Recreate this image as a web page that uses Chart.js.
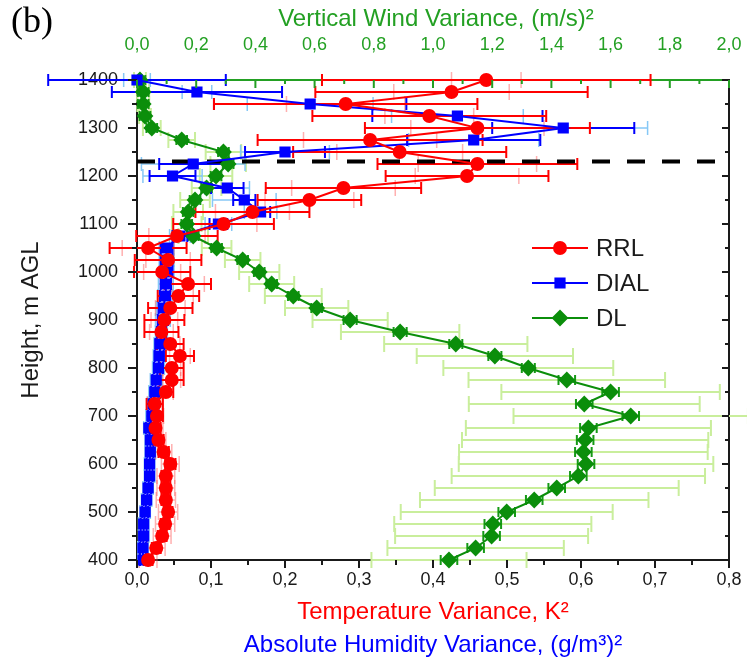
<!DOCTYPE html>
<html>
<head>
<meta charset="utf-8">
<script src="https://cdn.jsdelivr.net/npm/chart.js@4.4.1/dist/chart.umd.min.js"></script>
<style>
  html, body { margin: 0; padding: 0; background: #fff; }
</style>
</head>
<body>
<canvas id="chart" width="747" height="664"></canvas>
<script>
// heights, m AGL (bottom to top)
const heights = [400, 425, 450, 475, 500, 525, 550, 575, 600, 625, 650, 675, 700, 725, 750, 775, 800, 825, 850, 875,
                 900, 925, 950, 975, 1000, 1025, 1050, 1075, 1100, 1125, 1150, 1175, 1200, 1225, 1250, 1275, 1300,
                 1325, 1350, 1375, 1400]

// RRL temperature variance, K^2
const rrlVar  = [0.015, 0.026, 0.034, 0.038, 0.042, 0.039, 0.039, 0.039, 0.045, 0.036, 0.029, 0.025, 0.027, 0.024,
                 0.039, 0.047, 0.047, 0.058, 0.045, 0.033, 0.037, 0.045, 0.056, 0.069, 0.034, 0.042, 0.015, 0.054,
                 0.117, 0.156, 0.233, 0.279, 0.446, 0.460, 0.355, 0.315, 0.460, 0.395, 0.282, 0.425, 0.472]
const rrlErr  = [0.006, 0.006, 0.006, 0.006, 0.006, 0.006, 0.006, 0.006, 0.007, 0.007, 0.007, 0.007, 0.008, 0.011,
                 0.010, 0.016, 0.016, 0.019, 0.018, 0.023, 0.027, 0.030, 0.028, 0.031, 0.038, 0.045, 0.052, 0.055,
                 0.068, 0.077, 0.070, 0.105, 0.110, 0.135, 0.144, 0.152, 0.152, 0.158, 0.178, 0.184, 0.222]
const rrlErr2 = [0.012, 0.012, 0.012, 0.013, 0.013, 0.013, 0.012, 0.012, 0.012, 0.011, 0.010, 0.010, 0.009, 0.010,
                 0.010, 0.012, 0.012, 0.014, 0.013, 0.016, 0.018, 0.020, 0.020, 0.022, 0.025, 0.030, 0.035, 0.038,
                 0.045, 0.050, 0.060, 0.070, 0.070, 0.080, 0.085, 0.090, 0.090, 0.060, 0.080, 0.078, 0.047]

// DIAL absolute humidity variance, (g/m^3)^2
const dialVar  = [0.008, 0.008, 0.009, 0.009, 0.011, 0.013, 0.015, 0.017, 0.017, 0.018, 0.018, 0.016, 0.020, 0.022,
                  0.024, 0.026, 0.029, 0.030, 0.031, 0.033, 0.035, 0.036, 0.038, 0.039, 0.040, 0.040, 0.040, 0.058,
                  0.110, 0.167, 0.145, 0.122, 0.048, 0.076, 0.200, 0.455, 0.576, 0.433, 0.234, 0.081, 0.000]
const dialErr  = [0.004, 0.004, 0.004, 0.004, 0.004, 0.004, 0.004, 0.004, 0.004, 0.004, 0.004, 0.004, 0.005, 0.005,
                  0.005, 0.005, 0.006, 0.006, 0.006, 0.006, 0.007, 0.007, 0.007, 0.007, 0.008, 0.008, 0.008, 0.010,
                  0.012, 0.013, 0.015, 0.022, 0.031, 0.046, 0.054, 0.090, 0.096, 0.115, 0.130, 0.115, 0.120]
const dialErr2 = [0.007, 0.007, 0.007, 0.007, 0.007, 0.007, 0.007, 0.007, 0.007, 0.007, 0.007, 0.007, 0.008, 0.008,
                  0.008, 0.008, 0.008, 0.008, 0.008, 0.008, 0.010, 0.010, 0.010, 0.010, 0.010, 0.010, 0.010, 0.014,
                  0.018, 0.022, 0.043, 0.030, 0.040, 0.070, 0.060, 0.088, 0.114, 0.089, 0.085, 0.020, 0.018]

// DL vertical wind variance, (m/s)^2
const dlVar  = [1.054, 1.144, 1.198, 1.202, 1.249, 1.342, 1.418, 1.491, 1.517, 1.508, 1.514, 1.525, 1.668, 1.511,
                1.600, 1.452, 1.322, 1.209, 1.077, 0.889, 0.720, 0.607, 0.528, 0.455, 0.413, 0.357, 0.269, 0.190,
                0.168, 0.173, 0.196, 0.235, 0.267, 0.308, 0.292, 0.151, 0.050, 0.027, 0.021, 0.021, 0.010]
const dlErr  = [0.028, 0.028, 0.028, 0.028, 0.028, 0.028, 0.028, 0.028, 0.028, 0.028, 0.028, 0.028, 0.028, 0.028,
                0.028, 0.028, 0.022, 0.022, 0.022, 0.022, 0.022, 0.018, 0.018, 0.018, 0.018, 0.018, 0.018, 0.018,
                0.018, 0.018, 0.018, 0.018, 0.018, 0.018, 0.018, 0.018, 0.018, 0.018, 0.018, 0.018, 0.018]
const dlErr2 = [0.262, 0.298, 0.326, 0.333, 0.358, 0.386, 0.412, 0.428, 0.430, 0.420, 0.416, 0.414, 0.396, 0.390,
                0.369, 0.332, 0.287, 0.264, 0.242, 0.200, 0.127, 0.107, 0.096, 0.076, 0.068, 0.060, 0.050, 0.050,
                0.050, 0.050, 0.050, 0.050, 0.055, 0.060, 0.060, 0.045, 0.030, 0.020, 0.020, 0.020, 0.020]

const blHeight = 1230

const RED   = "#ff0000"
const BLUE  = "#0000ff"
const GREEN = "#0b8e0b"
const AXIS_GREEN = "#23a023"
const INK   = "#1a1a1a"
const SANS  = '"Liberation Sans", Arial, sans-serif'

const points = (xs) => xs.map((v, i) => ({ x: v, y: heights[i] }))
const comma  = (v, d) => Number(v).toFixed(d).replace(".", ",")

const errorBars = {
  id: "errorBars",
  beforeDatasetsDraw(chart) {
    const { ctx, scales } = chart
    const sets = [
      { axis: "x2", vals: dlVar,   err: dlErr2,   color: "#c9ee9c", width: 2,   cap: 16 },
      { axis: "x",  vals: dialVar, err: dialErr2, color: "#86c8f6", width: 1.5, cap: 14 },
      { axis: "x",  vals: rrlVar,  err: rrlErr2,  color: "rgba(255,80,80,0.45)", width: 1.5, cap: 16 },
      { axis: "x2", vals: dlVar,   err: dlErr,    color: "#159a15", width: 2,   cap: 10 },
      { axis: "x",  vals: dialVar, err: dialErr,  color: BLUE,      width: 2,   cap: 12 },
      { axis: "x",  vals: rrlVar,  err: rrlErr,   color: RED,       width: 2,   cap: 12 },
    ]
    ctx.save()
    for (const s of sets) {
      const xs = scales[s.axis]
      ctx.strokeStyle = s.color
      ctx.lineWidth = s.width
      s.vals.forEach((v, i) => {
        const py = scales.y.getPixelForValue(heights[i])
        const x0 = xs.getPixelForValue(v - s.err[i])
        const x1 = xs.getPixelForValue(v + s.err[i])
        ctx.beginPath()
        ctx.moveTo(x0, py); ctx.lineTo(x1, py)
        ctx.moveTo(x0, py - s.cap / 2); ctx.lineTo(x0, py + s.cap / 2)
        ctx.moveTo(x1, py - s.cap / 2); ctx.lineTo(x1, py + s.cap / 2)
        ctx.stroke()
      })
    }

    // boundary layer top
    const { left, right } = chart.chartArea
    const py = scales.y.getPixelForValue(blHeight)
    ctx.strokeStyle = "#000"
    ctx.lineWidth = 4
    ctx.setLineDash([18, 17])
    ctx.beginPath()
    ctx.moveTo(left, py); ctx.lineTo(right, py)
    ctx.stroke()
    ctx.restore()
  }
}

function tickMarks(ctx, scale, vertical, base, dir, step, every, majorLen, minorLen) {
  const n = Math.round((scale.max - scale.min) / step)
  ctx.beginPath()
  for (let i = 0; i <= n; i++) {
    const p = scale.getPixelForValue(scale.min + i * step)
    const len = i % every === 0 ? majorLen : minorLen
    if (vertical) { ctx.moveTo(base, p); ctx.lineTo(base + dir * len, p) }
    else          { ctx.moveTo(p, base); ctx.lineTo(p, base + dir * len) }
  }
  ctx.stroke()
}

const decorations = {
  id: "decorations",
  afterDraw(chart) {
    const { ctx, scales, chartArea: a } = chart
    ctx.save()
    ctx.lineWidth = 2
    ctx.strokeStyle = INK
    tickMarks(ctx, scales.y, true, a.left, -1, 50, 2, 9, 5)
    tickMarks(ctx, scales.y, true, a.right, -1, 50, 2, 7, 4)
    tickMarks(ctx, scales.x, false, a.bottom, 1, 0.05, 2, 8, 5)
    ctx.strokeStyle = AXIS_GREEN
    tickMarks(ctx, scales.x2, false, a.top, 1, 0.1, 2, 8, 4)

    const cx = (a.left + a.right) / 2
    ctx.textAlign = "center"
    ctx.textBaseline = "middle"
    ctx.font = `24px ${SANS}`
    ctx.fillStyle = AXIS_GREEN
    ctx.fillText("Vertical Wind Variance, (m/s)²", cx + 3, 19)
    ctx.fillStyle = RED
    ctx.fillText("Temperature Variance, K²", cx, 612)
    ctx.fillStyle = BLUE
    ctx.fillText("Absolute Humidity Variance, (g/m³)²", cx, 645)

    ctx.save()
    ctx.translate(31, (a.top + a.bottom) / 2)
    ctx.rotate(-Math.PI / 2)
    ctx.fillStyle = INK
    ctx.fillText("Height, m AGL", 0, 0)
    ctx.restore()

    ctx.textAlign = "left"
    ctx.font = '36px "Liberation Serif", "Times New Roman", serif'
    ctx.fillStyle = "#000"
    ctx.fillText("(b)", 11, 23)

    // legend
    const entries = [
      { label: "RRL",  color: RED,   style: "circle",  r: 6 },
      { label: "DIAL", color: BLUE,  style: "rect",    r: 6.5 },
      { label: "DL",   color: GREEN, style: "rectRot", r: 7 },
    ]
    ctx.font = `24px ${SANS}`
    entries.forEach((e, i) => {
      const ly = 248 + i * 35
      ctx.strokeStyle = e.color
      ctx.lineWidth = 2
      ctx.beginPath()
      ctx.moveTo(532, ly); ctx.lineTo(588, ly)
      ctx.stroke()
      ctx.fillStyle = e.color
      Chart.helpers.drawPoint(ctx, { pointStyle: e.style, radius: e.r, borderWidth: 1 }, 560, ly)
      ctx.fill()
      ctx.fillStyle = INK
      ctx.fillText(e.label, 596, ly + 1)
    })
    ctx.restore()
  }
}

const tickFont = { family: SANS, size: 18 }

// fixed axis boxes, no extra label overhang padding
const fixBox = (w, h) => s => {
  if (w) s.width = w
  if (h) s.height = h
  s.paddingLeft = 0
  s.paddingRight = 0
  s.paddingTop = 0
  s.paddingBottom = 0
}

new Chart(document.getElementById("chart"), {
  type: "scatter",
  data: {
    datasets: [
      {
        label: "RRL",
        data: points(rrlVar),
        xAxisID: "x",
        showLine: true,
        borderColor: RED,
        backgroundColor: RED,
        borderWidth: 2,
        pointStyle: "circle",
        pointRadius: 6,
        clip: false,
      },
      {
        label: "DIAL",
        data: points(dialVar),
        xAxisID: "x",
        showLine: true,
        borderColor: BLUE,
        backgroundColor: BLUE,
        borderWidth: 2,
        pointStyle: "rect",
        pointRadius: 6.5,
        clip: false,
      },
      {
        label: "DL",
        data: points(dlVar),
        xAxisID: "x2",
        showLine: true,
        borderColor: GREEN,
        backgroundColor: GREEN,
        borderWidth: 2,
        pointStyle: "rectRot",
        pointRadius: 7,
        clip: false,
      },
    ]
  },
  options: {
    responsive: false,
    animation: false,
    layout: { padding: 0 },
    plugins: {
      legend:  { display: false },
      tooltip: { enabled: false },
    },
    scales: {
      x: {
        type: "linear",
        position: "bottom",
        min: 0,
        max: 0.8,
        grid:   { display: false, drawTicks: false },
        border: { color: INK, width: 2 },
        ticks:  { stepSize: 0.1, color: INK, font: tickFont, padding: 9, maxRotation: 0,
                  callback: v => comma(v, 1) },
        afterFit: fixBox(0, 104),
      },
      x2: {
        type: "linear",
        position: "top",
        min: 0,
        max: 2,
        grid:   { display: false, drawTicks: false },
        border: { color: AXIS_GREEN, width: 2 },
        ticks:  { stepSize: 0.2, color: AXIS_GREEN, font: tickFont, padding: 24, maxRotation: 0,
                  callback: v => comma(v, 1) },
        afterFit: fixBox(0, 80),
      },
      y: {
        type: "linear",
        position: "left",
        min: 400,
        max: 1400,
        grid:   { display: false, drawTicks: false },
        border: { color: INK, width: 2 },
        ticks:  { stepSize: 100, color: INK, font: tickFont, padding: 19, callback: v => String(v) },
        afterFit: fixBox(137, 0),
      },
      y2: {
        type: "linear",
        position: "right",
        min: 400,
        max: 1400,
        grid:   { display: false, drawTicks: false },
        border: { color: INK, width: 2 },
        ticks:  { display: false },
        afterFit: fixBox(18, 0),
      },
    }
  },
  plugins: [errorBars, decorations]
})
</script>
</body>
</html>
